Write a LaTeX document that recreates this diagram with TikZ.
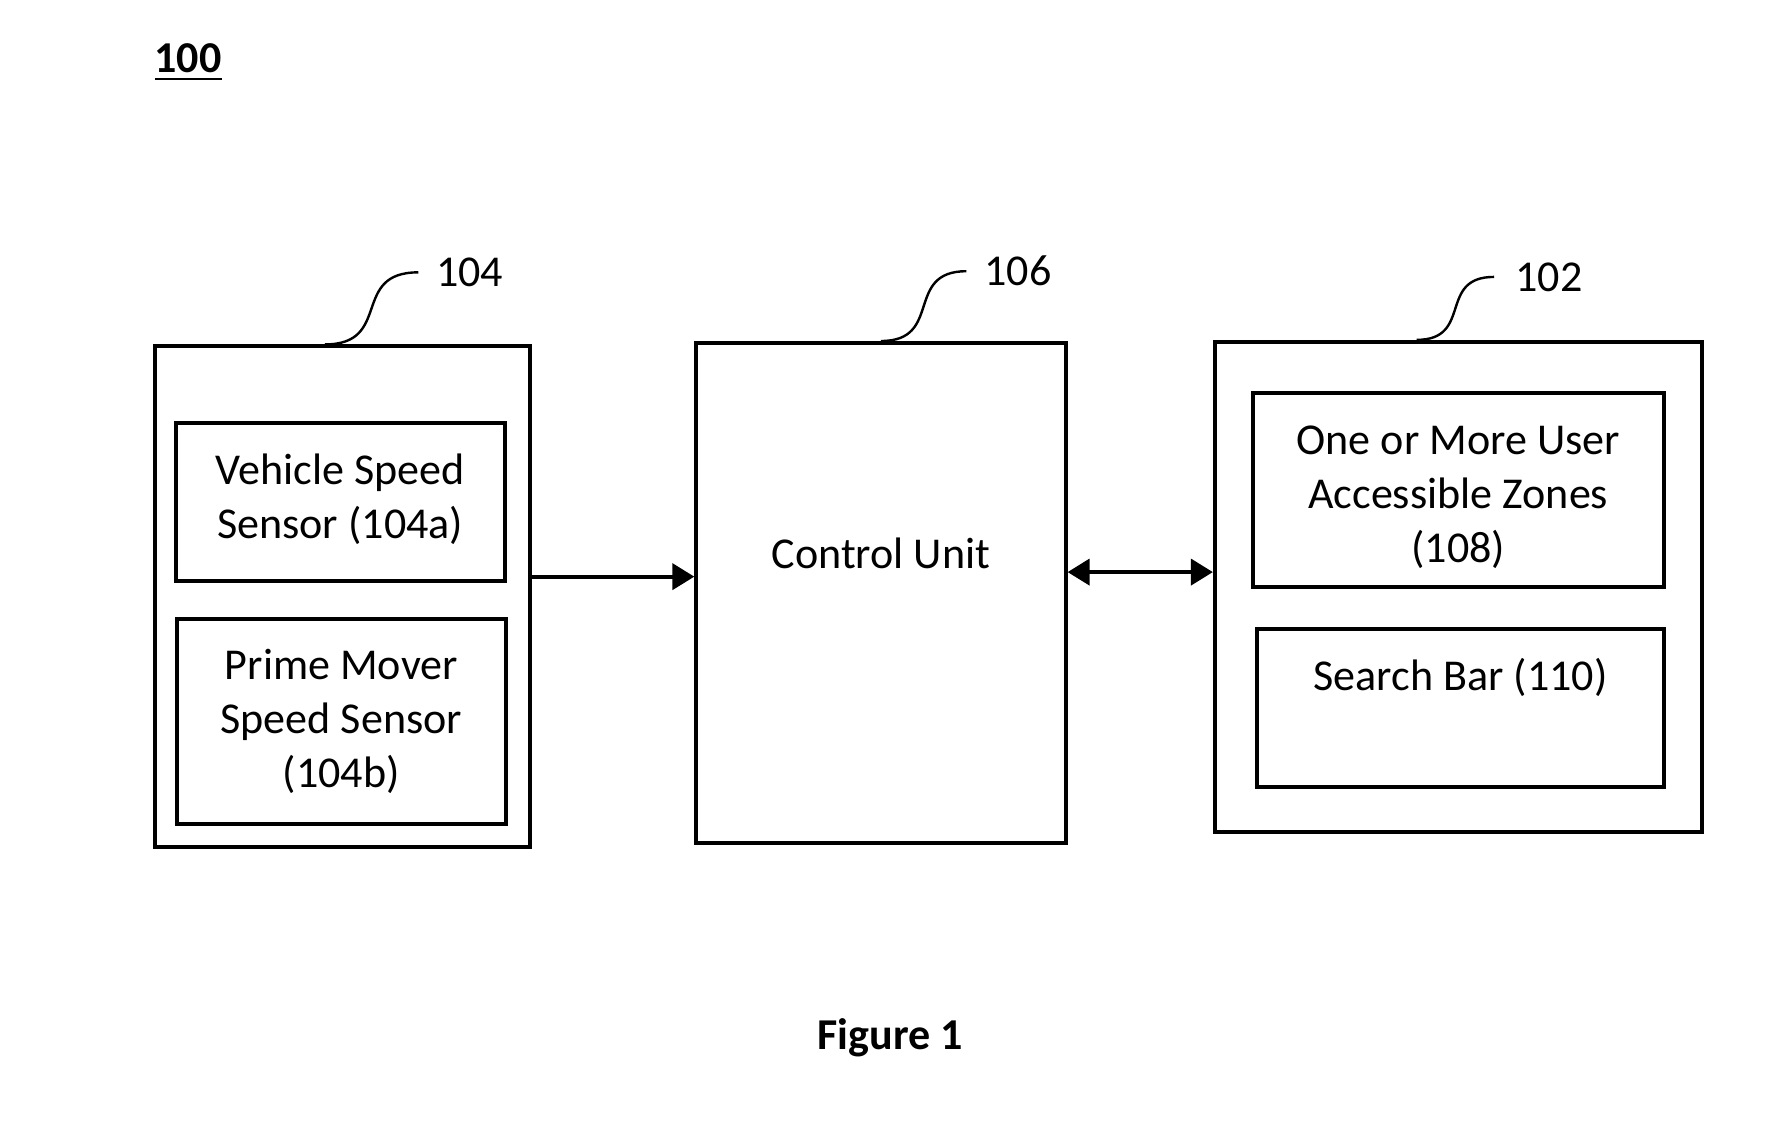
\documentclass[tikz,border=0pt]{standalone}
\usepackage{fontspec}
\setmainfont{Carlito}
\usetikzlibrary{arrows.meta,positioning}
\tikzstyle{block}=[draw,line width=1pt,rectangle,inner sep=0pt]
\tikzstyle{txt}=[font=\fontsize{11}{13.6}\selectfont,align=center,inner sep=0pt]
\tikzstyle{leader}=[draw,line width=0.6pt]
\tikzstyle{link}=[draw,line width=1pt,-{Triangle[length=5.5pt,width=6.5pt]}]
\tikzstyle{twoway}=[draw,line width=1pt,{Triangle[length=5.5pt,width=6.5pt]}-{Triangle[length=5.5pt,width=6.5pt]}]
\tikzstyle{refnum}=[font=\fontsize{11}{13.6}\selectfont,inner sep=0pt]

\begin{document}
\begin{tikzpicture}
    \useasboundingbox (0,0) rectangle (15.68,9.97);
    % First we draw the outer blocks
    \node[block,minimum width=3.29cm,minimum height=4.39cm] (b104) at (3.005,4.735) {};
    \node[block,minimum width=3.24cm,minimum height=4.39cm] (cu) at (7.73,4.765) {};
    \node[block,minimum width=4.27cm,minimum height=4.30cm] (b102) at (12.795,4.82) {};
    \node[txt] (cutxt) at ([yshift=-1.86cm]cu.north) {Control Unit};
    % Inner blocks
    \node[block,txt,minimum width=2.89cm,minimum height=1.39cm] (b104a) at (2.985,5.565) {Vehicle Speed\\Sensor (104a)\\[-3.8mm]};
    \node[block,txt,minimum width=2.89cm,minimum height=1.80cm] (b104b) at (2.995,3.64) {Prime Mover\\Speed Sensor\\(104b)};
    \node[block,txt,minimum width=3.61cm,minimum height=1.70cm] (b108) at (12.795,5.67) {\\[-1.0mm]One or More User\\Accessible Zones\\(108)};
    \node[block,minimum width=3.57cm,minimum height=1.39cm] (b110) at (12.815,3.755) {};
    \node[txt] (b110txt) at ([yshift=-0.44cm]b110.north) {Search Bar (110)};
    % Connect blocks with arrows
    \path[link] ([yshift=1.75mm]b104.east) -- ([yshift=1.75mm]b104.east -| cu.west);
    \path[twoway] ([yshift=1.85mm]cu.east) -- ([yshift=1.85mm]cu.east -| b102.west);
    % Reference numerals with leader lines
    \coordinate (e104) at (3.67,7.58);
    \coordinate (e106) at (8.48,7.59);
    \coordinate (e102) at (13.11,7.54);
    \path[leader] ([xshift=-1.55mm]b104.north) .. controls +(0.6,0) and +(-0.6,0) .. (e104);
    \path[leader] (cu.north) .. controls +(0.55,0) and +(-0.55,0) .. (e106);
    \path[leader] ([xshift=-3.65mm]b102.north) .. controls +(0.5,0) and +(-0.5,0) .. (e102);
    \node[refnum,right=1.5mm of e104] (n104) {104};
    \node[refnum,right=1.5mm of e106] (n106) {106};
    \node[refnum,right=1.8mm of e102] (n102) {102};
    % Titles
    \node[refnum] (n100) at (1.65,9.42) {\underline{\textbf{100}}};
    \node[refnum] (fig) at (7.81,0.86) {\textbf{Figure 1}};
\end{tikzpicture}
\end{document}
